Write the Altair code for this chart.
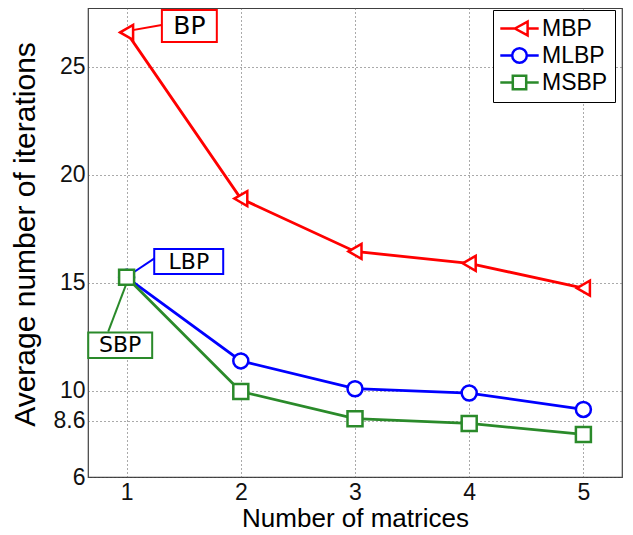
import altair as alt
import pandas as pd

# ---- data ----
matrices = [1, 2, 3, 4, 5]
mbp = [26.6, 18.9, 16.45, 15.9, 14.75]
mlbp = [15.25, 11.38, 10.09, 9.89, 9.13]
msbp = [15.25, 9.96, 8.7, 8.48, 7.97]

series_names = ["MBP", "MLBP", "MSBP"]
series_colors = ["#ff0000", "#0000ff", "#2a8a2a"]
marker_shapes = ["triangle-left", "circle", "square"]
legend_paths = [
    "M-1.92,0L-0.46,0M0.81,0L1.92,0M-0.46,0L0.81,-0.69L0.81,0.69Z",
    "M-1.92,0L-0.73,0M0.73,0L1.92,0M0.73,0A0.73,0.73,0,1,1,-0.73,0A0.73,0.73,0,1,1,0.73,0Z",
    "M-1.92,0L-0.67,0M0.67,0L1.92,0M-0.67,-0.67L0.67,-0.67L0.67,0.67L-0.67,0.67Z",
]

x_ticks = [1, 2, 3, 4, 5]
y_ticks = [6, 8.6, 10, 15, 20, 25]

# annotation boxes (in data units)
ann_labels = ["BP", "LBP", "SBP"]
ann_colors = ["#ff0000", "#0000ff", "#2a8a2a"]
ann_font = [25, 22, 22]
ann_text_x = [1.55, 1.545, 0.944]
ann_text_y = [26.89, 15.97, 12.10]
ann_box_x1 = [1.309, 1.242, 0.664]
ann_box_x2 = [1.790, 1.846, 1.224]
ann_box_y1 = [27.64, 16.56, 12.69]
ann_box_y2 = [26.15, 15.40, 11.51]
ann_line_x1 = [1.307, 1.247, 0.839]
ann_line_y1 = [26.94, 16.14, 12.74]
ann_line_x2 = [0.941, 1.029, 1.0]
ann_line_y2 = [26.6, 15.37, 14.98]

# ---- tables ----
rows = []
for name, vals in zip(series_names, [mbp, mlbp, msbp]):
    for m, v in zip(matrices, vals):
        rows.append({"Matrices": m, "Iterations": v, "Series": name})
df = pd.DataFrame(rows)

ann = pd.DataFrame({
    "label": ann_labels, "color": ann_colors, "fs": ann_font,
    "tx": ann_text_x, "ty": ann_text_y,
    "bx1": ann_box_x1, "bx2": ann_box_x2, "by1": ann_box_y1, "by2": ann_box_y2,
    "lx1": ann_line_x1, "ly1": ann_line_y1, "lx2": ann_line_x2, "ly2": ann_line_y2,
})

legend_df = pd.DataFrame({"Legend": series_names, "Matrices": [-10] * 3, "Iterations": [10] * 3})

xscale = alt.Scale(domain=[0.662, 5.338], nice=False, zero=False)
yscale = alt.Scale(domain=[6, 27.73], nice=False, zero=False)

x_axis = alt.Axis(values=x_ticks, title="Number of matrices", titleFontSize=26,
                  titleY=49, titleBaseline="alphabetic", labelPadding=4)
y_axis = alt.Axis(values=y_ticks, format=".1~f", title="Average number of iterations",
                  titleFontSize=30, titleX=-54, titleY=226, titleBaseline="alphabetic",
                  labelPadding=3)


def X(field):
    return alt.X(field, type="quantitative", scale=xscale, axis=x_axis)


def Y(field):
    return alt.Y(field, type="quantitative", scale=yscale, axis=y_axis)


color_scale = alt.Scale(domain=series_names, range=series_colors)

lines = alt.Chart(df).mark_line(strokeWidth=2.8).encode(
    x=X("Matrices"), y=Y("Iterations"),
    color=alt.Color("Series:N", scale=color_scale, legend=None),
    order=alt.Order("Matrices:Q"),
)

leaders = alt.Chart(ann).mark_rule(strokeWidth=2).encode(
    x=X("lx1"), y=Y("ly1"),
    x2="lx2:Q", y2="ly2:Q",
    color=alt.Color("color:N", scale=None),
)

points = alt.Chart(df).mark_point(filled=False, fill="white", size=225,
                                  strokeWidth=2.5, opacity=1).encode(
    x=X("Matrices"), y=Y("Iterations"),
    color=alt.Color("Series:N", scale=color_scale, legend=None),
    shape=alt.Shape("Series:N", scale=alt.Scale(domain=series_names, range=marker_shapes), legend=None),
)

boxes = alt.Chart(ann).mark_rect(fill="white", strokeWidth=2).encode(
    x=X("bx1"), x2="bx2:Q",
    y=Y("by1"), y2="by2:Q",
    stroke=alt.Stroke("color:N", scale=None),
)

texts = alt.Chart(ann).mark_text(font="DejaVu Sans", color="black", baseline="middle",
                                 align="center").encode(
    x=X("tx"), y=Y("ty"),
    text="label:N",
    size=alt.Size("fs:Q", scale=None),
)

leg_common = dict(orient="none", legendX=405, legendY=2, title=None,
                  strokeColor="black", fillColor="white", padding=7,
                  labelFont="Liberation Sans", labelFontSize=23, labelColor="black",
                  symbolSize=400, symbolStrokeWidth=2.5, symbolOpacity=1,
                  symbolOffset=8, labelOffset=11, rowPadding=2)

legend_layer = alt.Chart(legend_df).mark_point(clip=True, filled=False, fill="white",
                                               strokeWidth=2.5, opacity=1).encode(
    x=X("Matrices"), y=Y("Iterations"),
    color=alt.Color("Legend:N", scale=alt.Scale(domain=series_names, range=series_colors),
                    legend=alt.Legend(**leg_common)),
    shape=alt.Shape("Legend:N", scale=alt.Scale(domain=series_names, range=legend_paths),
                    legend=alt.Legend(**leg_common)),
)

chart = alt.layer(lines, leaders, points, boxes, texts, legend_layer).resolve_scale(
    color="independent", shape="independent"
).properties(
    width=534, height=469,
    autosize=alt.AutoSizeParams(type="none"),
    padding={"left": 80, "top": 0, "right": 3, "bottom": 55},
    background="white",
).configure_view(
    stroke="#404040", strokeWidth=1.2
).configure_axis(
    grid=True, gridDash=[1, 3], gridColor="#555555", gridWidth=1, gridOpacity=1,
    tickSize=0, domain=False,
    labelFont="Liberation Sans", labelFontSize=23, labelColor="#111111",
    titleFont="Liberation Sans", titleFontWeight="normal", titleColor="black",
)

chart.save("out.html", embed_options={"renderer": "svg", "actions": False})
